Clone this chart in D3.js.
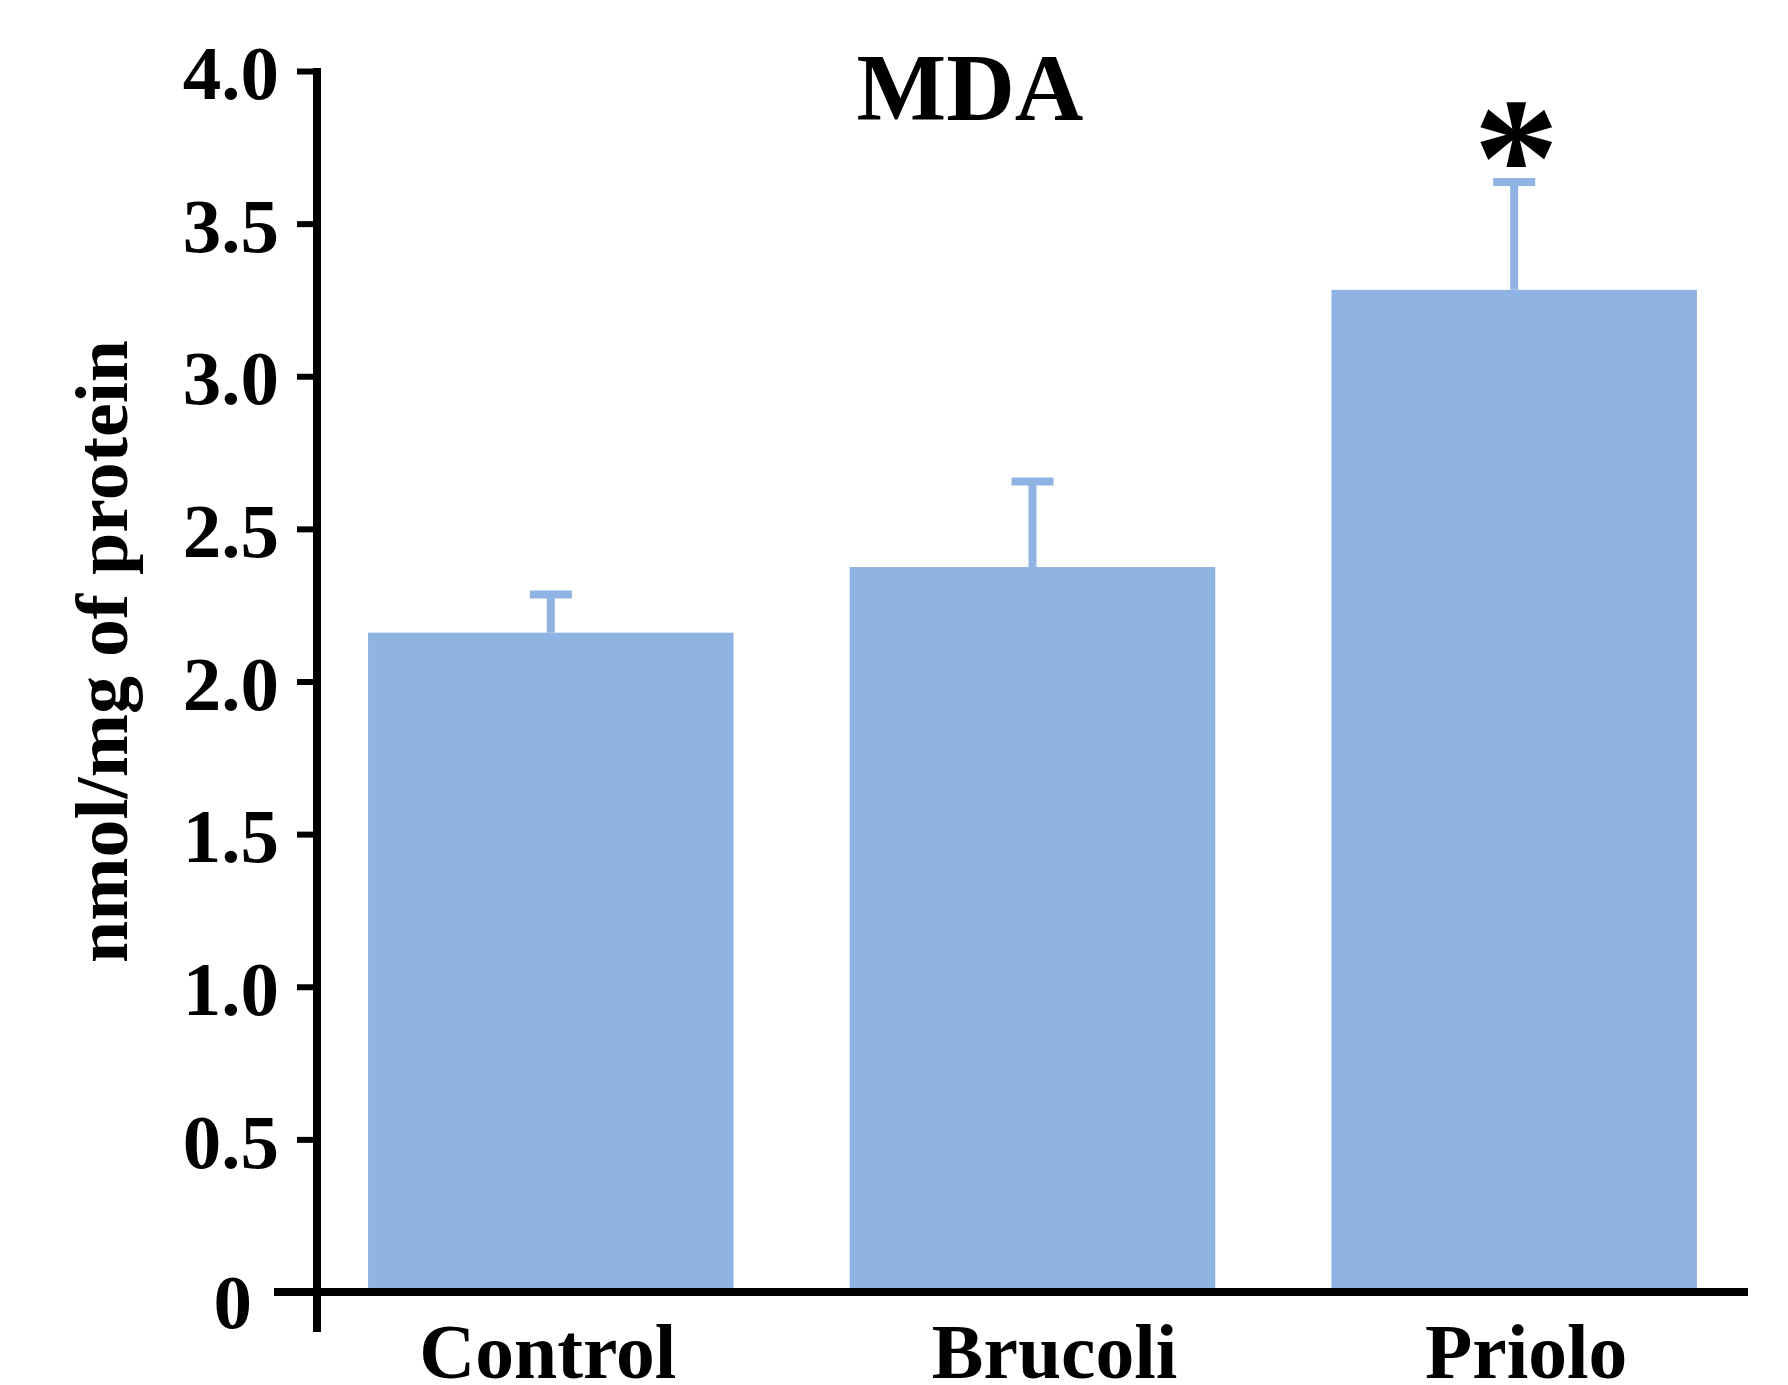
<!DOCTYPE html>
<html>
<head>
<meta charset="utf-8">
<script src="https://cdn.jsdelivr.net/npm/d3@7"></script>
<style>
html,body{margin:0;padding:0;background:#fff;}
svg{display:block;}
text{font-family:"Liberation Serif","Times New Roman",serif;font-weight:bold;fill:#000;}
</style>
</head>
<body>
<script>
const categories = ["Control", "Brucoli", "Priolo"];
const means = [2.16, 2.375, 3.283];
const errors = [0.125, 0.28, 0.353];
const significance = ["", "", "*"];
const yTicks = [0, 0.5, 1.0, 1.5, 2.0, 2.5, 3.0, 3.5, 4.0];
const yTickLabels = ["0", "0.5", "1.0", "1.5", "2.0", "2.5", "3.0", "3.5", "4.0"];
const title = "MDA";
const yLabel = "nmol/mg of protein";

const W = 1788, H = 1385;
const barColor = "#8FB3E2";
const labelNudge = [-3, 22, 12];

const svg = d3.select("body").append("svg").attr("width", W).attr("height", H);

const y = d3.scaleLinear().domain([0, 4]).range([1292, 71]);
const x = d3.scaleBand().domain(categories).range([317, 1748])
  .paddingInner(0.2412).paddingOuter(0.106);

// bars
svg.append("g").selectAll("rect").data(categories).join("rect")
  .attr("x", d => x(d))
  .attr("width", x.bandwidth())
  .attr("y", (d, i) => y(means[i]))
  .attr("height", (d, i) => y(0) - y(means[i]))
  .attr("fill", barColor);

// error bars
const eb = svg.append("g");
categories.forEach((c, i) => {
  const cx = x(c) + x.bandwidth() / 2;
  eb.append("line").attr("x1", cx).attr("x2", cx)
    .attr("y1", y(means[i])).attr("y2", y(means[i] + errors[i]))
    .attr("stroke", barColor).attr("stroke-width", 8);
  eb.append("line").attr("x1", cx - 21).attr("x2", cx + 21)
    .attr("y1", y(means[i] + errors[i])).attr("y2", y(means[i] + errors[i]))
    .attr("stroke", barColor).attr("stroke-width", 8);
  if (significance[i]) {
    svg.append("text").attr("x", cx + 2).attr("y", y(means[i] + errors[i]) + 34)
      .attr("text-anchor", "middle").attr("font-size", 172).text(significance[i]);
  }
});

// y axis
const yAxis = d3.axisLeft(y).tickValues(yTicks)
  .tickFormat((d, i) => yTickLabels[i]).tickSize(20).tickPadding(18);
const gy = svg.append("g").attr("transform", "translate(317,0)").call(yAxis);
gy.select(".domain").remove();
gy.selectAll(".tick line").attr("stroke", "#000").attr("stroke-width", 6);
gy.selectAll(".tick text").attr("font-size", 77)
  .attr("font-family", "Liberation Serif, Times New Roman, serif")
  .attr("font-weight", "bold").attr("dy", "0.36em").attr("fill", "#000");
gy.selectAll(".tick text").filter(d => d === 0)
  .attr("dx", -27).attr("dy", "0.46em");

// axis lines
svg.append("line").attr("x1", 317).attr("x2", 317).attr("y1", y(4) - 3).attr("y2", 1332)
  .attr("stroke", "#000").attr("stroke-width", 8);
svg.append("line").attr("x1", 274).attr("x2", 1748).attr("y1", y(0)).attr("y2", y(0))
  .attr("stroke", "#000").attr("stroke-width", 8);

// x labels
svg.append("g").selectAll("text").data(categories).join("text")
  .attr("x", (d, i) => x(d) + x.bandwidth() / 2 + labelNudge[i])
  .attr("y", 1378)
  .attr("text-anchor", "middle").attr("font-size", 77.5).text(d => d);

// title
svg.append("text").attr("x", 970).attr("y", 120).attr("text-anchor", "middle")
  .attr("font-size", 95).text(title);

// y label
svg.append("text").attr("transform", "translate(127,651.5) rotate(-90)")
  .attr("text-anchor", "middle").attr("font-size", 74)
  .attr("textLength", 623).attr("lengthAdjust", "spacingAndGlyphs")
  .text(yLabel);
</script>
</body>
</html>
